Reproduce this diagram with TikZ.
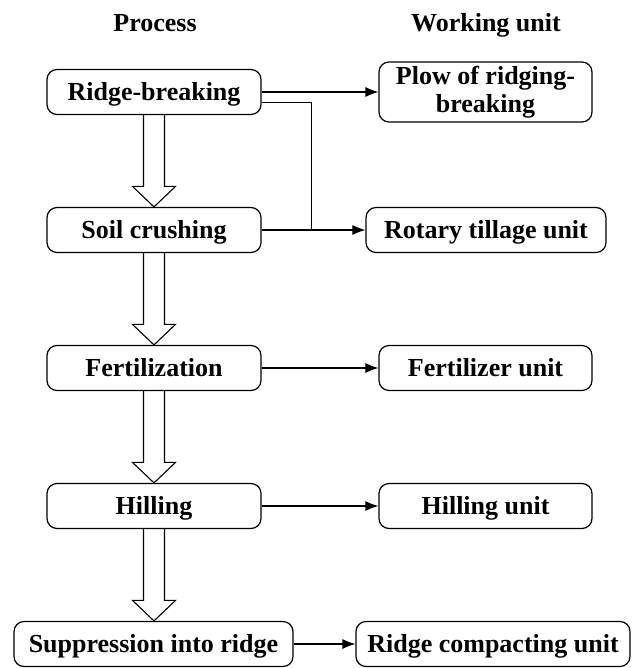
\documentclass[tikz,border=0pt]{standalone}
\usepackage{fontspec}
\setmainfont{Liberation Serif}
\usetikzlibrary{arrows.meta}
\tikzset{
  box/.style={draw, line width=1.2pt, rounded corners=10pt, inner sep=0pt,
    minimum height=45pt, text height=17.2pt, text depth=0pt,
    font=\bfseries\fontsize{26}{28}\selectfont},
  twoline/.style={draw, line width=1.2pt, rounded corners=10pt, inner sep=0pt,
    minimum height=60pt, align=center,
    font=\bfseries\fontsize{26}{28}\selectfont},
  head/.style={anchor=base, inner sep=0pt, font=\bfseries\fontsize{26}{28}\selectfont},
  conn/.style={line width=1.1pt},
  arr/.style={conn, -{Latex[length=13pt,width=10pt]}},
  hollowline/.style={line width=1.1pt, line join=miter}
}
\newcommand{\hollowarrow}[2]{%
  \draw[hollowline] ([xshift=-10.5pt]#1.south)
    -- ([xshift=-10.5pt,yshift=20.5pt]#1.south |- #2.north)
    -- ([xshift=-21.5pt,yshift=20.5pt]#1.south |- #2.north)
    -- (#1.south |- #2.north)
    -- ([xshift=21.5pt,yshift=20.5pt]#1.south |- #2.north)
    -- ([xshift=10.5pt,yshift=20.5pt]#1.south |- #2.north)
    -- ([xshift=10.5pt]#1.south);}
\begin{document}
\begin{tikzpicture}[x=1pt,y=1pt]
\useasboundingbox (0,0) rectangle (636,-668);
% headers
\node[head] (hp) at (155,-31.7) {Process};
\node[head] (hw) at (486,-31.7) {Working unit};
% process boxes
\node[box, minimum width=214pt] (rb) at (154,-92) {Ridge-breaking};
\node[box, minimum width=214pt] (sc) at (154,-230) {Soil crushing};
\node[box, minimum width=214pt] (fe) at (154,-368) {Fertilization};
\node[box, minimum width=214pt] (hi) at (154,-506) {Hilling};
\node[box, minimum width=279pt] (su) at (153.5,-644) {Suppression into ridge};
% working unit boxes
\node[twoline, minimum width=213pt] (pl) at (485.5,-92) {Plow of ridging-\\breaking};
\node[box, minimum width=240pt] (ro) at (486,-230) {Rotary tillage unit};
\node[box, minimum width=213pt] (fu) at (485.5,-368) {Fertilizer unit};
\node[box, minimum width=213pt] (hu) at (485.5,-506) {Hilling unit};
\node[box, minimum width=274pt] (rc) at (493,-644) {Ridge compacting unit};
% hollow arrows
\hollowarrow{rb}{sc}
\hollowarrow{sc}{fe}
\hollowarrow{fe}{hi}
\hollowarrow{hi}{su}
% connectors
\coordinate (j) at (311.5,-230);
\draw[arr] (rb.east) -- (pl.west);
\draw[conn] ([yshift=-10.5pt]rb.east) -| (j);
\draw[arr] (sc.east) -- (ro.west);
\draw[arr] (fe.east) -- (fu.west);
\draw[arr] (hi.east) -- (hu.west);
\draw[arr] (su.east) -- (rc.west);
\end{tikzpicture}
\end{document}
